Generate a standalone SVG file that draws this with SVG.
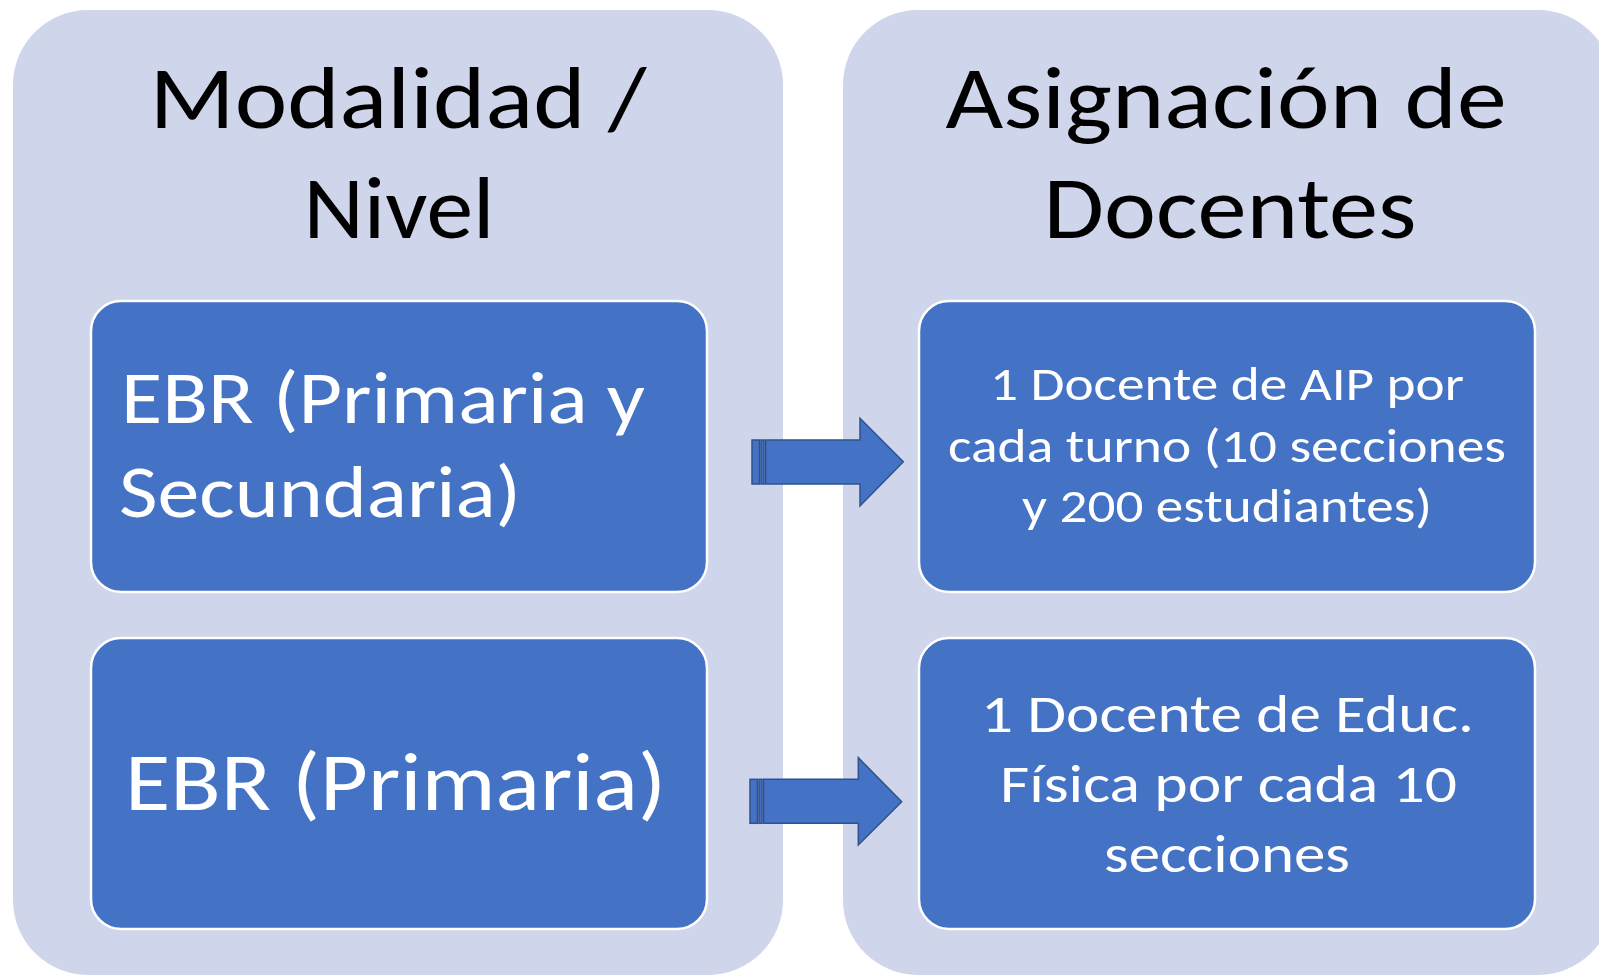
<svg xmlns="http://www.w3.org/2000/svg" width="1599" height="976" viewBox="0 0 1599 976">
<style>
.panel{fill:#CFD5EA;}
.box{fill:#4472C4;stroke:#FFFFFF;stroke-width:2.5;}
.title{font-family:Carlito,Lato,"Open Sans",sans-serif;font-size:89px;fill:#000000;text-anchor:middle;}
.lbl{font-family:Carlito,Lato,"Open Sans",sans-serif;fill:#FFFFFF;}
.arr{fill:#4472C4;stroke:#2F528F;stroke-width:1.5;stroke-linejoin:miter;}
</style>
<rect width="1599" height="976" fill="#FFFFFF"/>
<g id="panel-modalidad">
<rect class="panel" x="13" y="10" width="770" height="965" rx="75" ry="75"/>
<text class="title" x="398" y="128" textLength="497" lengthAdjust="spacingAndGlyphs">Modalidad /</text>
<text class="title" x="399" y="238" textLength="191" lengthAdjust="spacingAndGlyphs">Nivel</text>
</g>
<g id="panel-asignacion">
<rect class="panel" x="843" y="10" width="770" height="965" rx="75" ry="75"/>
<text class="title" x="1226" y="128" textLength="561" lengthAdjust="spacingAndGlyphs">Asignación de</text>
<text class="title" x="1230" y="238" textLength="373" lengthAdjust="spacingAndGlyphs">Docentes</text>
</g>
<g id="node-ebr-prim-sec">
<rect class="box" x="91" y="301" width="616" height="291" rx="30" ry="30"/>
<text class="lbl" x="121" y="423" font-size="74" textLength="524" lengthAdjust="spacingAndGlyphs">EBR (Primaria y</text>
<text class="lbl" x="119" y="517" font-size="74" textLength="402" lengthAdjust="spacingAndGlyphs">Secundaria)</text>
</g>
<g id="node-ebr-prim">
<rect class="box" x="91" y="638" width="616" height="291" rx="30" ry="30"/>
<text class="lbl" x="395.5" y="810" font-size="82" text-anchor="middle" textLength="541" lengthAdjust="spacingAndGlyphs">EBR (Primaria)</text>
</g>
<g id="node-aip">
<rect class="box" x="919" y="301" width="616" height="291" rx="30" ry="30"/>
<text class="lbl" x="1227" y="400" font-size="47" text-anchor="middle" textLength="474" lengthAdjust="spacingAndGlyphs">1 Docente de AIP por</text>
<text class="lbl" x="1227" y="461.7" font-size="47" text-anchor="middle" textLength="558" lengthAdjust="spacingAndGlyphs">cada turno (10 secciones</text>
<text class="lbl" x="1227" y="521.7" font-size="47" text-anchor="middle" textLength="410" lengthAdjust="spacingAndGlyphs">y 200 estudiantes)</text>
</g>
<g id="node-edfisica">
<rect class="box" x="919" y="638" width="616" height="291" rx="30" ry="30"/>
<text class="lbl" x="1227.5" y="731.7" font-size="54" text-anchor="middle" textLength="493" lengthAdjust="spacingAndGlyphs">1 Docente de Educ.</text>
<text class="lbl" x="1228.5" y="801.7" font-size="54" text-anchor="middle" textLength="457" lengthAdjust="spacingAndGlyphs">Física por cada 10</text>
<text class="lbl" x="1227" y="871.7" font-size="54" text-anchor="middle" textLength="246" lengthAdjust="spacingAndGlyphs">secciones</text>
</g>
<g id="connectors">
<g id="arrow-1">
<rect class="arr" x="752" y="440" width="7.5" height="44"/>
<rect class="arr" x="761" y="440" width="3" height="44"/>
<path class="arr" d="M765.5,440 H860 V418.3 L903.3,461.7 L860,506 V484 H765.5 Z"/>
</g>
<g id="arrow-2">
<rect class="arr" x="750" y="779.3" width="7.5" height="44"/>
<rect class="arr" x="759" y="779.3" width="3" height="44"/>
<path class="arr" d="M763.5,779.3 H858.3 V757.7 L901.7,801.7 L858.3,845 V823.3 H763.5 Z"/>
</g>
</g>
</svg>
